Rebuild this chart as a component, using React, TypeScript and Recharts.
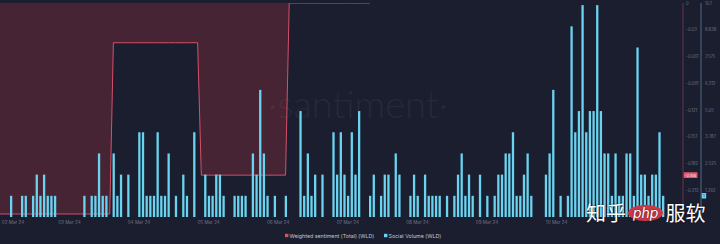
import {
  ComposedChart, Bar, Area, XAxis, YAxis, Legend, ReferenceLine,
} from 'recharts'

// one slot per sampling interval, day labels sit on the first slot of each day
const dayLabels = ['02 Mar 24', '03 Mar 24', '04 Mar 24', '05 Mar 24', '06 Mar 24', '07 Mar 24', '08 Mar 24', '09 Mar 24', '10 Mar 24']
const dayStartSlots = [0, 19, 38, 57, 76, 95, 114, 133, 152]

const socialVolume = [
  0, 0, 0, 1, 0, 0, 1, 1, 0, 1,
  2, 1, 2, 1, 1, 1, 0, 0, 0, 0,
  0, 0, 0, 1, 0, 1, 1, 3, 1, 1,
  0, 3, 1, 2, 0, 2, 0, 0, 4, 4,
  1, 1, 1, 4, 1, 1, 3, 0, 1, 0,
  2, 1, 0, 4, 0, 0, 2, 1, 1, 2,
  2, 1, 0, 0, 1, 1, 1, 1, 0, 3,
  2, 6, 3, 1, 0, 1, 0, 0, 1, 0,
  0, 0, 5, 1, 3, 1, 2, 0, 2, 0,
  0, 4, 2, 4, 2, 1, 4, 2, 5, 0,
  0, 1, 2, 0, 1, 2, 2, 0, 3, 2,
  0, 0, 1, 2, 1, 0, 2, 1, 1, 1,
  1, 0, 1, 0, 1, 2, 3, 1, 2, 1,
  0, 2, 0, 1, 0, 1, 2, 2, 3, 3,
  4, 1, 1, 2, 3, 1, 0, 0, 0, 2,
  3, 6, 0, 1, 0, 1, 9, 4, 5, 10,
  4, 5, 5, 10, 5, 3, 3, 1, 3, 1,
  1, 3, 3, 1, 8, 2, 2, 1, 2, 2,
  4, 1, 0, 0, 0, 0, 0,
]

const weightedSentiment = [
  -0.239, -0.239, -0.239, -0.239, -0.239, -0.239, -0.239, -0.239, -0.239, -0.239,
  -0.239, -0.239, -0.239, -0.239, -0.239, -0.239, -0.239, -0.239, -0.239, -0.239,
  -0.239, -0.239, -0.239, -0.239, -0.239, -0.239, -0.239, -0.239, -0.239, -0.239,
  -0.239, -0.045, -0.045, -0.045, -0.045, -0.045, -0.045, -0.045, -0.045, -0.045,
  -0.045, -0.045, -0.045, -0.045, -0.045, -0.045, -0.045, -0.045, -0.045, -0.045,
  -0.045, -0.045, -0.045, -0.045, -0.045, -0.195, -0.195, -0.195, -0.195, -0.195,
  -0.195, -0.195, -0.195, -0.195, -0.195, -0.195, -0.195, -0.195, -0.195, -0.195,
  -0.195, -0.195, -0.195, -0.195, -0.195, -0.195, -0.195, -0.195, -0.195, 0,
  0, 0, 0, 0, 0, 0, 0, 0, 0, 0,
  0, 0, 0, 0, 0, 0, 0, 0, 0, 0,
  0, 0, null, null, null, null, null, null, null, null,
  null, null, null, null, null, null, null, null, null, null,
  null, null, null, null, null, null, null, null, null, null,
  null, null, null, null, null, null, null, null, null, null,
  null, null, null, null, null, null, null, null, null, null,
  null, null, null, null, null, null, null, null, null, null,
  null, null, null, null, null, null, null, null, null, null,
  null, null, null, null, null, null, null, null, null, null,
  null, null, null, null, null, null, null,
]

const sentimentDomain = [-0.2424, 0]
const sentimentTicks = [0, -0.0303, -0.0606, -0.0909, -0.1212, -0.1515, -0.1818, -0.2121]
const sentimentTickLabels = ['0', '-0.03', '-0.061', '-0.091', '-0.121', '-0.151', '-0.182', '-0.212']
const volumeDomain = [0, 10.1]
const volumeTicks = [1.2625, 2.525, 3.7875, 5.05, 6.3125, 7.575, 8.8375, 10.1]
const volumeTickLabels = ['1.262', '2.525', '3.787', '5.05', '6.313', '7.575', '8.838', '10.1']

const lastSentiment = -0.195
const lastSentimentText = '-0.198'
const lastVolume = 1

const BG = '#1b1e2f'
const RED = '#d64f68'
const CYAN = '#6ad3ef'
const TICK = '#6e7389'
const FONT = 'Inter, "Noto Sans", sans-serif'

function DayTick(p: any) {
  const i = dayStartSlots.indexOf(p.payload.value)
  const first = i === 0
  return (
    <text x={first ? p.x + 2 : p.x} y={p.y + 5} textAnchor={first ? 'start' : 'middle'}
      dominantBaseline="central" fontSize={4.6} fill={TICK} fontFamily={FONT}>
      {dayLabels[i]}
    </text>
  )
}

function SideTick(p: any) {
  const { ticks, labels, dx } = p
  const i = ticks.indexOf(p.payload.value)
  return (
    <text x={p.x + dx} y={p.y} dominantBaseline="central" fontSize={4.2} fill={TICK} fontFamily={FONT}>
      {labels[i]}
    </text>
  )
}

function Tag(p: any) {
  const vb = p.viewBox
  const x = vb.x + vb.width + p.offsetX
  return (
    <g>
      <rect x={x} y={vb.y - 2.8} width={p.w} height={5.6} rx={0.6} fill={p.bg} />
      <text x={x + p.w / 2} y={vb.y} textAnchor="middle" dominantBaseline="central"
        fontSize={4} fill={p.color} fontFamily={FONT}>{p.text}</text>
    </g>
  )
}

function LegendRow() {
  return (
    <svg width={722} height={17}>
      <rect x={287} y={6.8} width={3.4} height={3.4} fill={RED} />
      <text x={291.5} y={8.5} dominantBaseline="central" fontSize={5.3} fill="#c3c6d3" fontFamily={FONT}>
        Weighted sentiment (Total) (WLD)
      </text>
      <rect x={386} y={6.8} width={3.4} height={3.4} fill={CYAN} />
      <text x={390.5} y={8.5} dominantBaseline="central" fontSize={5.3} fill="#c3c6d3" fontFamily={FONT}>
        Social Volume (WLD)
      </text>
    </svg>
  )
}

export default function App() {
  const data = socialVolume.map((volume, slot) => ({ slot, volume, sentiment: weightedSentiment[slot] }))

  return (
    <div style={{ position: 'fixed', left: 0, top: 0, width: 720, height: 244, overflow: 'hidden', background: BG }}>
      <svg width={720} height={244} style={{ position: 'absolute', left: 0, top: 0 }}>
        <text x={358} y={118} textAnchor="middle" fontSize={38} fontWeight={300}
          fontFamily="Lato, sans-serif" fill="#25293b">·santiment·</text>
      </svg>
      <div style={{ position: 'absolute', left: -2, top: 0 }}>
        <ComposedChart width={722} height={244} data={data} margin={{ top: 3, right: 0, bottom: 0, left: 0 }}>
          <XAxis dataKey="slot" type="category" ticks={dayStartSlots} interval={0} height={10}
            axisLine={false} tickLine={false} tickSize={0} tickMargin={0} tick={<DayTick />} />
          <YAxis yAxisId="s" orientation="right" width={18} domain={sentimentDomain}
            ticks={sentimentTicks} interval={0} allowDataOverflow
            axisLine={{ stroke: '#6b3346' }} tickLine={false} tickSize={0} tickMargin={0}
            tick={<SideTick ticks={sentimentTicks} labels={sentimentTickLabels} dx={3} />} />
          <YAxis yAxisId="v" orientation="right" width={19} domain={volumeDomain}
            ticks={volumeTicks} interval={0} allowDataOverflow
            axisLine={{ stroke: '#4f6a86' }} tickLine={false} tickSize={0} tickMargin={0}
            tick={<SideTick ticks={volumeTicks} labels={volumeTickLabels} dx={4} />} />
          <Bar yAxisId="v" dataKey="volume" fill={CYAN} barSize={2.3} isAnimationActive={false} />
          <Area yAxisId="s" dataKey="sentiment" type="linear" stroke={RED} strokeWidth={1}
            fill="#e53c48" fillOpacity={0.22} dot={false} activeDot={false} isAnimationActive={false} />
          <ReferenceLine yAxisId="s" y={lastSentiment} stroke="none" ifOverflow="visible"
            label={<Tag text={lastSentimentText} offsetX={0.5} w={14} bg="#e4576e" color="#f4dde2" />} />
          <ReferenceLine yAxisId="v" y={lastVolume} stroke="none" ifOverflow="visible"
            label={<Tag text="1" offsetX={18.6} w={4.6} bg={CYAN} color="#15324a" />} />
          <Legend verticalAlign="bottom" height={17} content={() => <LegendRow />} />
        </ComposedChart>
      </div>
      <div style={{
        position: 'absolute', left: 586, top: 200, display: 'flex', alignItems: 'center',
        color: '#ffffff', fontSize: 20, fontFamily: '"Noto Sans CJK SC", sans-serif',
        textShadow: '0 0 2px rgba(0,0,0,0.7)', lineHeight: '26px',
      }}>
        知乎
        <span style={{
          background: '#cc3847', borderRadius: '50%', fontSize: 14, fontStyle: 'italic',
          padding: '0 5px', margin: '0 2px', lineHeight: '16px', fontFamily: FONT,
        }}>php</span>
        服软
      </div>
    </div>
  )
}
